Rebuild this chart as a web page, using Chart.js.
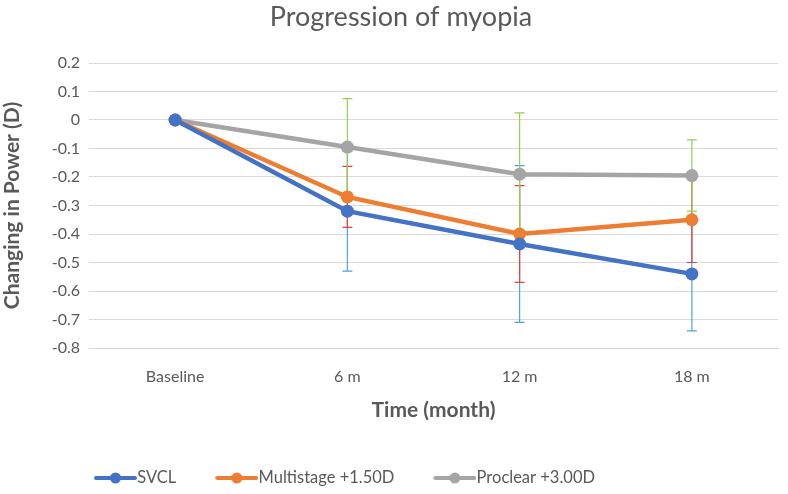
<!DOCTYPE html>
<html>
<head>
<meta charset="utf-8">
<script src="https://cdn.jsdelivr.net/npm/chart.js@4/dist/chart.umd.min.js"></script>
<style>
html,body{margin:0;padding:0;background:#fff;}
#wrap{width:788px;height:494px;}
</style>
</head>
<body>
<div id="wrap"><canvas id="c" width="788" height="494"></canvas></div>
<script>
const categories = ["Baseline", "6 m", "12 m", "18 m"];
const svclValues = [0, -0.32, -0.435, -0.54];
const svclErrors = [0, 0.21, 0.275, 0.20];
const multiValues = [0, -0.27, -0.40, -0.35];
const multiErrors = [0, 0.107, 0.17, 0.15];
const proclearValues = [0, -0.095, -0.19, -0.195];
const proclearErrors = [0, 0.17, 0.215, 0.125];
const seriesNames = ["SVCL", "Multistage +1.50D", "Proclear +3.00D"];
const yTickMin = -0.8, yTickMax = 0.2, yTickStep = 0.1;

const FONT = "Lato, 'Open Sans', sans-serif";
const TXT = "#595959";

function legendIcon(color) {
  const c = document.createElement('canvas');
  c.width = 56; c.height = 14;
  const g = c.getContext('2d');
  g.strokeStyle = color; g.lineWidth = 4; g.lineCap = 'round';
  g.beginPath(); g.moveTo(15, 7); g.lineTo(54, 7); g.stroke();
  g.fillStyle = color;
  g.beginPath(); g.arc(34.5, 7, 5.5, 0, Math.PI * 2); g.fill();
  return c;
}

const colors = ["#4472c4", "#ed7d31", "#a5a5a5"];
const errColors = ["#4fa3e0", "#e8403a", "#92d050"];
const errs = [svclErrors, multiErrors, proclearErrors];

const errorBarPlugin = {
  id: 'errorBars',
  beforeDatasetsDraw(chart) {
    const ctx = chart.ctx;
    const xs = chart.scales.x, ys = chart.scales.y;
    chart.data.datasets.forEach((ds, i) => {
      const e = errs[i];
      ctx.save();
      ctx.strokeStyle = errColors[i];
      ctx.lineWidth = 1.2;
      ds.data.forEach((v, j) => {
        if (!e[j]) return;
        const x = xs.getPixelForValue(j);
        const y1 = ys.getPixelForValue(v + e[j]);
        const y2 = ys.getPixelForValue(v - e[j]);
        ctx.beginPath();
        ctx.moveTo(x, y1); ctx.lineTo(x, y2);
        ctx.moveTo(x - 5, y1); ctx.lineTo(x + 5, y1);
        ctx.moveTo(x - 5, y2); ctx.lineTo(x + 5, y2);
        ctx.stroke();
      });
      ctx.restore();
    });
  }
};

const shiftBlocks = {
  id: 'shiftBlocks',
  afterLayout(chart) {
    const l = chart.legend;
    if (l) { l.left -= 47; l.right -= 47; }
    const t = chart.titleBlock;
    if (t) { t.left += 12; t.right += 12; }
  }
};

function mkDs(label, data, color) {
  return {
    label, data,
    borderColor: color, backgroundColor: color,
    borderWidth: 4.5, pointRadius: 6.5, pointHoverRadius: 6.5,
    pointBackgroundColor: color, pointBorderColor: color, pointBorderWidth: 0,
    tension: 0, pointStyle: 'circle'
  };
}

new Chart(document.getElementById('c'), {
  type: 'line',
  data: {
    labels: categories,
    datasets: [
      mkDs(seriesNames[0], svclValues, colors[0]),
      mkDs(seriesNames[1], multiValues, colors[1]),
      mkDs(seriesNames[2], proclearValues, colors[2])
    ]
  },
  plugins: [errorBarPlugin, shiftBlocks],
  options: {
    responsive: false,
    animation: false,
    devicePixelRatio: 1,
    layout: { padding: { left: 0, right: 10, top: 0, bottom: -2.25 } },
    plugins: {
      title: {
        display: true,
        text: "Progression of myopia",
        color: TXT,
        font: { family: FONT, size: 27, weight: 'normal' },
        padding: { top: 1, bottom: 29.6 }
      },
      legend: {
        display: true,
        position: 'bottom',
        labels: {
          color: TXT,
          font: { family: FONT, size: 16.5 },
          usePointStyle: true,
          pointStyleWidth: 40,
          padding: 34,
          generateLabels(chart) {
            return chart.data.datasets.map((ds, i) => ({
              text: ds.label,
              pointStyle: legendIcon(colors[i]),
              fillStyle: colors[i], strokeStyle: colors[i],
              lineWidth: 0, hidden: false, datasetIndex: i, fontColor: TXT
            }));
          }
        }
      },
      tooltip: { enabled: false }
    },
    scales: {
      x: {
        offset: true,
        grid: { display: false, drawTicks: false },
        border: { display: true, color: "#d9d9d9" },
        ticks: { color: TXT, font: { family: FONT, size: 16 }, padding: 19 },
        title: {
          display: true, text: "Time (month)", color: TXT,
          font: { family: FONT, size: 21, weight: 'bold' }, padding: { top: 4, bottom: 13 }
        },
        afterFit(s) { s.height = 87.75; }
      },
      y: {
        min: yTickMin, max: yTickMax,
        grid: { color: "#d9d9d9", drawTicks: false },
        border: { display: false },
        ticks: {
          stepSize: yTickStep, color: TXT, padding: 9,
          font: { family: FONT, size: 16 },
          callback(v) { const r = Math.round(v * 10) / 10; return r === 0 ? "0" : r.toString(); }
        },
        title: {
          display: true, text: "Changing in Power (D)", color: TXT,
          font: { family: FONT, size: 21, weight: 'bold' }, padding: { top: 0, bottom: 0 }
        },
        afterFit(s) { s.width = 89; }
      }
    }
  }
});
</script>
</body>
</html>
